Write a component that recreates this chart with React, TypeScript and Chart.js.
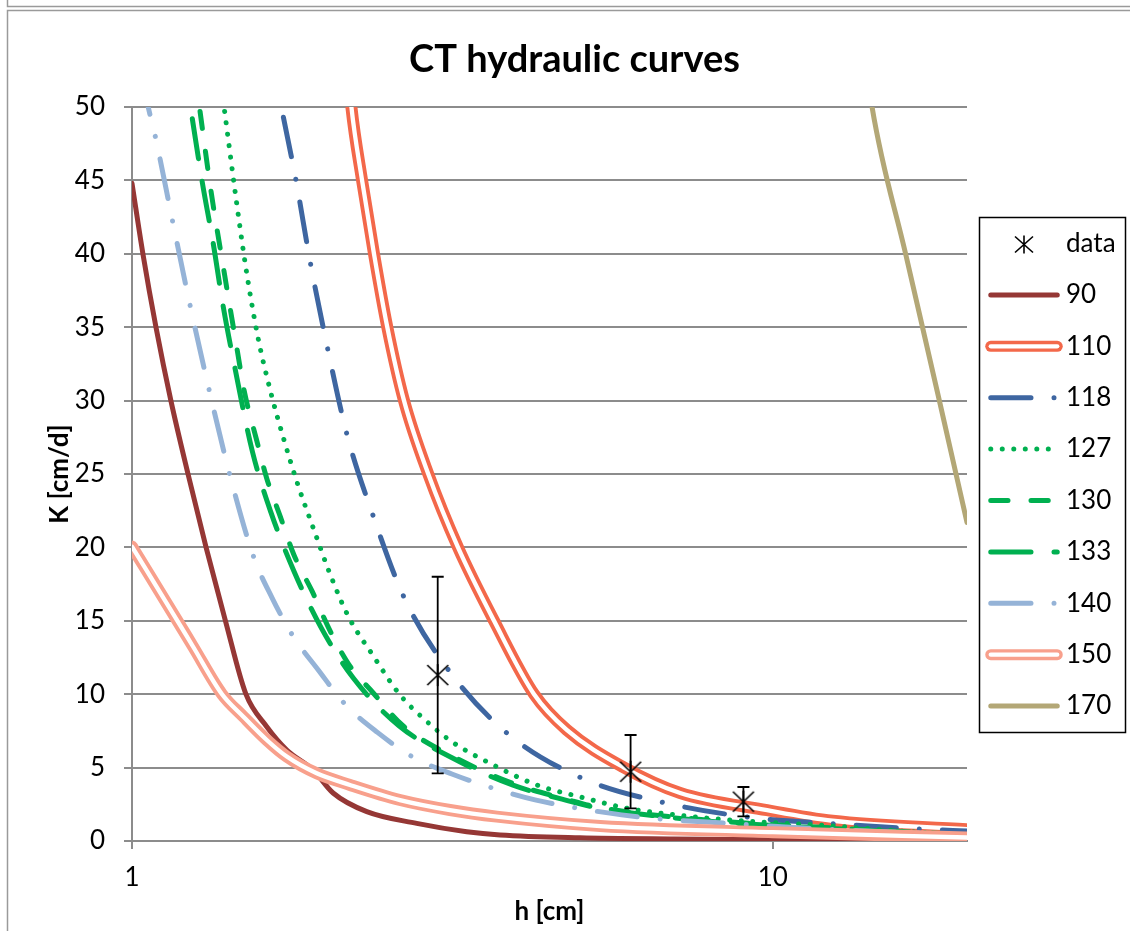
import React, { useEffect, useRef } from "react";
import { Chart, registerables } from "chart.js";

Chart.register(...registerables);

// ---- measured points: pressure head h [cm], conductivity K [cm/d], error ----
const dataH = [3, 6, 9];
const dataK = [11.3, 4.72, 2.68];
const dataErr = [6.7, 2.5, 1.0];

// ---- fitted conductivity curves ----
const h90 = [1, 1.04, 1.09, 1.15, 1.223, 1.305, 1.399, 1.506, 1.622, 1.744, 1.917, 2.06, 2.325, 2.782, 3.33, 3.753, 5, 7, 10, 14, 20.1];
const k90 = [44.8, 40, 35, 30, 25, 20, 15, 10, 7.8, 6.2, 4.84, 3.27, 2.0, 1.2, 0.63, 0.41, 0.22, 0.14, 0.09, 0.06, 0.04];

const h110 = [2.14, 2.2, 2.286, 2.386, 2.503, 2.658, 2.9, 3.227, 3.673, 4.241, 4.77, 5.84, 7.17, 9.8, 12.4, 20.1];
const k110 = [56, 50, 45, 40, 35, 30, 25, 20, 15, 10, 7.57, 5.04, 3.27, 2.1, 1.38, 0.8];

const h118 = [1.723, 1.801, 1.9, 2.021, 2.165, 2.381, 2.658, 3.124, 3.867, 5.045, 6.79, 9.27, 12.6, 17.2, 20.1];
const k118 = [49.3, 45.1, 39.3, 33.5, 27.7, 22.1, 16.6, 11.6, 7.27, 4.27, 2.6, 1.6, 1.16, 0.8, 0.68];

const h127 = [1.395, 1.452, 1.505, 1.571, 1.648, 1.722, 1.814, 1.919, 2.037, 2.176, 2.381, 2.62, 2.867, 3.155, 3.664, 4.281, 5.034, 5.917, 6.998, 8.276, 12.43, 17.8, 20.1];
const k127 = [49.7, 43.9, 39.1, 34.4, 30.5, 27.5, 24.3, 21.3, 18.2, 15.3, 12.6, 9.95, 8.25, 6.77, 5.18, 3.82, 2.98, 2.23, 1.8, 1.48, 1.02, 0.52, 0.41];

const h130 = [1.277, 1.328, 1.392, 1.46, 1.496, 1.563, 1.623, 1.704, 1.789, 1.911, 2.028, 2.174, 2.378, 2.648, 3.19, 4.0, 4.76, 5.28, 7.8, 12.6, 20.1];
const k130 = [49.7, 44.3, 38.8, 33.4, 30.7, 27.4, 24.7, 22.1, 19.5, 17, 14.5, 12.1, 10.1, 7.85, 5.7, 3.8, 2.85, 2.34, 1.45, 0.88, 0.42];

const h133 = [1.242, 1.287, 1.339, 1.388, 1.448, 1.542, 1.647, 1.789, 1.975, 2.215, 2.61, 3.147, 3.932, 4.69, 5.22, 7.7, 12.4, 20.1];
const k133 = [49.2, 44.9, 40.7, 36.4, 32.2, 26.5, 22.4, 18.4, 14.5, 11.1, 7.85, 5.7, 3.8, 2.85, 2.34, 1.4, 0.85, 0.4];

const h140 = [1.035, 1.06, 1.086, 1.156, 1.232, 1.32, 1.422, 1.55, 1.655, 1.781, 1.953, 2.15, 2.416, 2.748, 3.164, 3.664, 4.256, 4.973, 5.81, 6.75, 7.91, 10.8, 20.1];
const k140 = [52.2, 50, 48.1, 42.3, 36.5, 30.7, 24.9, 19.3, 16.55, 14.0, 11.65, 9.32, 7.4, 5.7, 4.55, 3.59, 2.8, 2.23, 1.78, 1.48, 1.29, 0.92, 0.4];

const h150 = [1, 1.178, 1.245, 1.382, 1.492, 1.623, 1.744, 1.942, 2.189, 2.62, 3.135, 3.709, 5.38, 10, 20.1];
const k150 = [20.05, 14.98, 13.25, 10, 8.47, 6.88, 5.75, 4.61, 3.82, 2.79, 2.11, 1.66, 1.02, 0.6, 0.24];

const h170 = [13.8, 14.29, 16.12, 18.2, 20.1];
const k170 = [55, 50, 40, 30, 21.7];

// ---- axes ----
const xMin = 1;
const xMax = 20.1;
const xTickValues = [1, 10];
const yMin = 0;
const yMax = 50;
const yStep = 5;

const chartTitle = "CT hydraulic curves";
const xTitle = "h [cm]";
const yTitle = "K [cm/d]";
const dataLabel = "data";

// ---- styling ----
const FONT = "Lato, 'Open Sans', 'DejaVu Sans', sans-serif";
const GRID = "#8c8c8c";
const LINE_W = 5;
const DOUBLE_OUTER = 12;
const DOUBLE_INNER = 4.3;
const U = 5.75; // dash unit
const DASH = [3 * U, 4 * U];
const LONG_DASH = [7 * U, 4 * U];
const LONG_DASH_DOT = [7 * U, 4 * U, 0.01, 4 * U];
const ROUND_DOT = [0.01, 2 * U];

type Curve = {
  label: string;
  h: number[];
  k: number[];
  color: string;
  dash?: number[];
  double?: boolean;
};

const curves: Curve[] = [
  { label: "90", h: h90, k: k90, color: "#953735" },
  { label: "110", h: h110, k: k110, color: "#f3684a", double: true },
  { label: "118", h: h118, k: k118, color: "#3e66a1", dash: LONG_DASH_DOT },
  { label: "127", h: h127, k: k127, color: "#00b050", dash: ROUND_DOT },
  { label: "130", h: h130, k: k130, color: "#00b050", dash: DASH },
  { label: "133", h: h133, k: k133, color: "#00b050", dash: LONG_DASH },
  { label: "140", h: h140, k: k140, color: "#95b3d7", dash: LONG_DASH_DOT },
  { label: "150", h: h150, k: k150, color: "#f8a08c", double: true },
  { label: "170", h: h170, k: k170, color: "#b3a776" },
];

const toPoints = (h: number[], k: number[]) => h.map((x, i) => ({ x, y: k[i] }));

function strokeStar(ctx: CanvasRenderingContext2D, cx: number, cy: number, rx: number, ry: number) {
  ctx.beginPath();
  ctx.moveTo(cx - rx, cy - ry);
  ctx.lineTo(cx + rx, cy + ry);
  ctx.moveTo(cx - rx, cy + ry);
  ctx.lineTo(cx + rx, cy - ry);
  ctx.moveTo(cx, cy - ry - 1);
  ctx.lineTo(cx, cy + ry + 1);
  ctx.stroke();
}

function makeStarMarker(): HTMLCanvasElement {
  const c = document.createElement("canvas");
  c.width = 24;
  c.height = 24;
  const ctx = c.getContext("2d")!;
  ctx.strokeStyle = "#000";
  ctx.lineWidth = 1.7;
  strokeStar(ctx, 12, 12, 10.5, 10);
  return c;
}

// Error bars for the measured points
const errorBarsPlugin = {
  id: "errorBars",
  afterDatasetsDraw(chart: any) {
    const { ctx, scales } = chart;
    const x = scales.x;
    const y = scales.y;
    ctx.save();
    ctx.strokeStyle = "#000";
    ctx.lineWidth = 1.8;
    dataH.forEach((h, i) => {
      const px = x.getPixelForValue(h);
      const top = y.getPixelForValue(dataK[i] + dataErr[i]);
      const bot = y.getPixelForValue(dataK[i] - dataErr[i]);
      ctx.beginPath();
      ctx.moveTo(px, top);
      ctx.lineTo(px, bot);
      ctx.moveTo(px - 6, top);
      ctx.lineTo(px + 6, top);
      ctx.moveTo(px - 6, bot);
      ctx.lineTo(px + 6, bot);
      ctx.stroke();
    });
    ctx.restore();
  },
};

// Outer frame, title and the boxed legend
const LEG = { left: 979.5, top: 217.5, width: 146, height: 515, row0: 243.5, step: 51.4, x1: 990.75, x2: 1057.25, textX: 1066, markX: 1024 };

const decorPlugin = {
  id: "decor",
  beforeDraw(chart: any) {
    const { ctx, width, height } = chart;
    ctx.save();
    ctx.fillStyle = "#fff";
    ctx.fillRect(0, 0, width, height);
    ctx.strokeStyle = "#9a9a9a";
    ctx.lineWidth = 1.5;
    ctx.beginPath();
    ctx.moveTo(7.5, 0);
    ctx.lineTo(7.5, 6.5);
    ctx.lineTo(width, 6.5);
    ctx.moveTo(width, 10.5);
    ctx.lineTo(7.5, 10.5);
    ctx.lineTo(7.5, height);
    ctx.stroke();
    ctx.restore();
  },
  afterDraw(chart: any) {
    const { ctx } = chart;
    ctx.save();
    ctx.fillStyle = "#000";
    ctx.font = `bold 38px ${FONT}`;
    ctx.textAlign = "center";
    ctx.textBaseline = "alphabetic";
    ctx.fillText(chartTitle, 574.5, 72);

    ctx.strokeStyle = "#000";
    ctx.lineWidth = 1.5;
    ctx.strokeRect(LEG.left, LEG.top, LEG.width, LEG.height);

    ctx.font = `26px ${FONT}`;
    ctx.textAlign = "left";
    ctx.textBaseline = "middle";
    const labels = [dataLabel, ...curves.map((c) => c.label)];
    labels.forEach((label, i) => {
      const y = LEG.row0 + i * LEG.step;
      if (i === 0) {
        ctx.strokeStyle = "#000";
        ctx.lineWidth = 1.6;
        ctx.setLineDash([]);
        strokeStar(ctx, LEG.markX, y + 1, 9, 8);
      } else {
        const c = curves[i - 1];
        ctx.lineCap = "round";
        if (c.double) {
          ctx.setLineDash([]);
          ctx.strokeStyle = c.color;
          ctx.lineWidth = DOUBLE_OUTER - 1;
          ctx.beginPath();
          ctx.moveTo(LEG.x1, y);
          ctx.lineTo(LEG.x2, y);
          ctx.stroke();
          ctx.strokeStyle = "#fff";
          ctx.lineWidth = DOUBLE_INNER;
          ctx.beginPath();
          ctx.moveTo(LEG.x1, y);
          ctx.lineTo(LEG.x2, y);
          ctx.stroke();
        } else {
          ctx.setLineDash(c.dash ?? []);
          ctx.strokeStyle = c.color;
          ctx.lineWidth = LINE_W;
          ctx.beginPath();
          ctx.moveTo(LEG.x1, y);
          ctx.lineTo(LEG.x2, y);
          ctx.stroke();
          ctx.setLineDash([]);
        }
      }
      ctx.fillStyle = "#000";
      ctx.fillText(label, LEG.textX, y);
    });
    ctx.restore();
  },
};

export default function App() {
  const ref = useRef<HTMLCanvasElement>(null);

  useEffect(() => {
    const canvas = ref.current;
    if (!canvas) return;
    const star = makeStarMarker();

    const datasets: any[] = [
      {
        label: dataLabel,
        data: toPoints(dataH, dataK),
        showLine: false,
        pointStyle: star,
        pointRadius: 11,
        pointHoverRadius: 11,
        order: 0,
        clip: false,
      },
    ];

    curves.forEach((c, i) => {
      const order = 100 - i * 2;
      const common = {
        data: toPoints(c.h, c.k),
        showLine: true,
        pointRadius: 0,
        pointHoverRadius: 0,
        cubicInterpolationMode: "monotone",
        borderCapStyle: "round",
        borderJoinStyle: "round",
        clip: 0,
      };
      datasets.push({
        ...common,
        label: c.label,
        borderColor: c.color,
        borderWidth: c.double ? DOUBLE_OUTER : LINE_W,
        borderDash: c.dash ?? [],
        order,
      });
      if (c.double) {
        datasets.push({
          ...common,
          label: c.label + " inner",
          borderColor: "#ffffff",
          borderWidth: DOUBLE_INNER,
          order: order - 1,
        });
      }
    });

    const tickFont = { family: FONT, size: 26 };
    const titleFont = { family: FONT, size: 26, weight: "bold" as const };

    const chart = new Chart(canvas, {
      type: "scatter",
      data: { datasets },
      options: {
        responsive: false,
        animation: false,
        devicePixelRatio: 1,
        events: [],
        layout: { padding: { top: 107, right: 163, bottom: 0, left: 0 } },
        plugins: {
          legend: { display: false },
          title: { display: false },
          tooltip: { enabled: false },
        },
        scales: {
          x: {
            type: "logarithmic",
            position: "bottom",
            min: xMin,
            max: xMax,
            afterFit: (s: any) => {
              s.height = 90;
            },
            afterBuildTicks: (s: any) => {
              s.ticks = xTickValues.map((v) => ({ value: v }));
            },
            ticks: {
              callback: (v: any) => String(v),
              font: tickFont,
              color: "#000",
              padding: 13,
              maxRotation: 0,
              autoSkip: false,
            },
            grid: { drawOnChartArea: false, drawTicks: true, tickLength: 8, color: GRID, lineWidth: 2 },
            border: { display: true, color: GRID, width: 2 },
            title: { display: true, text: xTitle, font: titleFont, color: "#000", padding: { top: 0, bottom: 4 } },
          },
          y: {
            type: "linear",
            min: yMin,
            max: yMax,
            afterFit: (s: any) => {
              s.width = 132;
            },
            ticks: { stepSize: yStep, font: tickFont, color: "#000", padding: 19 },
            grid: { color: GRID, lineWidth: 2, tickLength: 8, drawTicks: true },
            border: { display: true, color: GRID, width: 2 },
            title: { display: true, text: yTitle, font: titleFont, color: "#000", padding: { top: 44, bottom: 0 } },
          },
        },
      } as any,
      plugins: [decorPlugin, errorBarsPlugin],
    });

    return () => chart.destroy();
  }, []);

  return (
    <div style={{ position: "fixed", left: 0, top: 0, width: 1130, height: 931, background: "#fff" }}>
      <canvas ref={ref} width={1130} height={931} style={{ display: "block", width: 1130, height: 931 }} />
    </div>
  );
}
